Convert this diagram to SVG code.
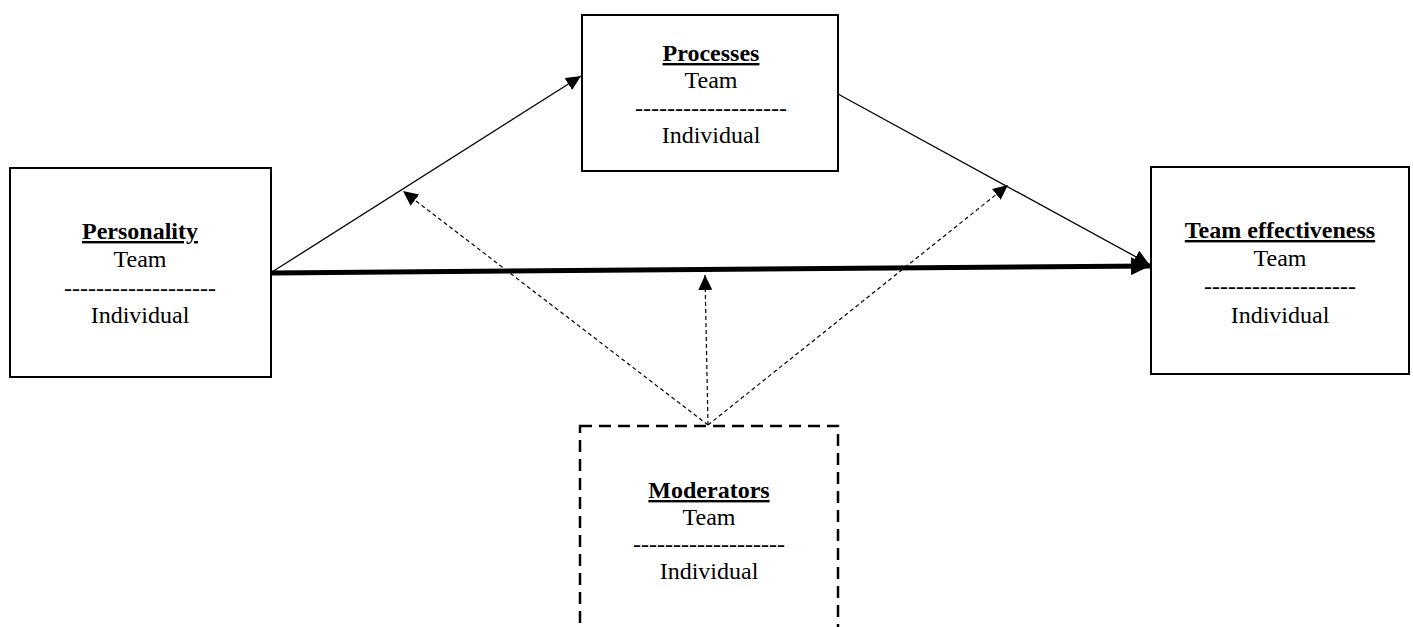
<svg xmlns="http://www.w3.org/2000/svg" width="1413" height="627" viewBox="0 0 1413 627">
<style>
.box{fill:#fff;stroke:#000;stroke-width:2}
.dbox{fill:#fff;stroke:#000;stroke-width:2.5;stroke-dasharray:12 7}
text{font-family:"Liberation Serif","Times New Roman",serif;font-size:24px;fill:#000;text-anchor:middle}
.title{font-weight:bold;text-decoration:underline}
.thin{fill:none;stroke:#000;stroke-width:1.3}
.thick{fill:none;stroke:#000;stroke-width:5}
.dash{fill:none;stroke:#000;stroke-width:1.2;stroke-dasharray:4 3}
</style>
<defs>
<marker id="ah" markerUnits="userSpaceOnUse" markerWidth="16" markerHeight="14" refX="15" refY="7" orient="auto"><path d="M0,0 L15,7 L0,14 z" fill="#000"/></marker>
<marker id="ahb" markerUnits="userSpaceOnUse" markerWidth="20" markerHeight="18" refX="19" refY="9" orient="auto"><path d="M0,0 L19,9 L0,18 z" fill="#000"/></marker>
</defs>
<g id="connectors">
<line class="thin" x1="272" y1="272" x2="581" y2="76" marker-end="url(#ah)"/>
<line class="thin" x1="838" y1="94" x2="1149" y2="264" marker-end="url(#ah)"/>
<line class="thick" x1="272" y1="273" x2="1150" y2="266" marker-end="url(#ahb)"/>
<line class="dash" x1="708" y1="425" x2="403" y2="191" marker-end="url(#ah)"/>
<line class="dash" x1="708" y1="425" x2="705" y2="275" marker-end="url(#ah)"/>
<line class="dash" x1="708" y1="425" x2="1008" y2="185" marker-end="url(#ah)"/>
</g>
<g id="personality">
<rect class="box" x="10" y="168" width="261" height="209"/>
<text class="title" x="140" y="239">Personality</text>
<text x="140" y="267">Team</text>
<text x="140" y="296">-------------------</text>
<text x="140" y="323">Individual</text>
</g>
<g id="processes">
<rect class="box" x="582" y="15" width="256" height="156"/>
<text class="title" x="711" y="61">Processes</text>
<text x="711" y="88">Team</text>
<text x="711" y="116">-------------------</text>
<text x="711" y="143">Individual</text>
</g>
<g id="team-effectiveness">
<rect class="box" x="1151" y="167" width="258" height="207"/>
<text class="title" x="1280" y="238">Team effectiveness</text>
<text x="1280" y="266">Team</text>
<text x="1280" y="294">-------------------</text>
<text x="1280" y="323">Individual</text>
</g>
<g id="moderators">
<rect class="dbox" x="580" y="426" width="258" height="230"/>
<text class="title" x="709" y="498">Moderators</text>
<text x="709" y="525">Team</text>
<text x="709" y="552">-------------------</text>
<text x="709" y="579">Individual</text>
</g>
</svg>
